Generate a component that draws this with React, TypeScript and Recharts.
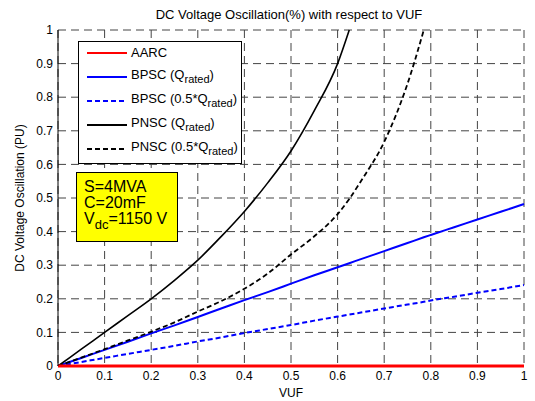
import React from 'react';
import { LineChart, Line, XAxis, YAxis, CartesianGrid } from 'recharts';

const vuf = [0, 0.05, 0.1, 0.15, 0.2, 0.25, 0.3, 0.35, 0.4, 0.45, 0.5, 0.55, 0.6, 0.625, 0.65, 0.7, 0.75, 0.785, 0.8, 0.85, 0.9, 0.95, 1];
const aarc = [0, 0, 0, 0, 0, 0, 0, 0, 0, 0, 0, 0, 0, 0, 0, 0, 0, 0, 0, 0, 0, 0, 0];
const bpscRated = [0, 0.024, 0.048, 0.072, 0.097, 0.121, 0.146, 0.171, 0.196, 0.22, 0.245, 0.27, 0.294, 0.306, 0.318, 0.342, 0.366, 0.383, 0.39, 0.413, 0.436, 0.459, 0.482];
const bpscHalf = [0, 0.012, 0.024, 0.036, 0.048, 0.06, 0.073, 0.085, 0.098, 0.11, 0.122, 0.135, 0.147, 0.153, 0.159, 0.171, 0.183, 0.191, 0.195, 0.206, 0.218, 0.229, 0.241];
const pnscRated = [0, 0.05, 0.1, 0.15, 0.2, 0.255, 0.315, 0.385, 0.46, 0.545, 0.64, 0.76, 0.9, 1, null, null, null, null, null, null, null, null, null];
const pnscHalf = [0, 0.025, 0.05, 0.076, 0.102, 0.13, 0.162, 0.193, 0.23, 0.275, 0.332, 0.386, 0.452, 0.497, 0.55, 0.667, 0.84, 1, null, null, null, null, null];
const ticks = [0, 0.1, 0.2, 0.3, 0.4, 0.5, 0.6, 0.7, 0.8, 0.9, 1];

const data = vuf.map((v, i) => ({
  vuf: v,
  aarc: aarc[i],
  bpscRated: bpscRated[i],
  bpscHalf: bpscHalf[i],
  pnscRated: pnscRated[i],
  pnscHalf: pnscHalf[i],
}));

const FONT = '"Liberation Sans", Arial, Helvetica, sans-serif';

const legendItems = [
  { name: 'AARC', sub: '', tail: '', color: '#ff0000', dash: undefined },
  { name: 'BPSC (Q', sub: 'rated', tail: ')', color: '#0000ff', dash: undefined },
  { name: 'BPSC (0.5*Q', sub: 'rated', tail: ')', color: '#0000ff', dash: '5 3' },
  { name: 'PNSC (Q', sub: 'rated', tail: ')', color: '#000000', dash: undefined },
  { name: 'PNSC (0.5*Q', sub: 'rated', tail: ')', color: '#000000', dash: '5 3' },
];

function YLabel(props: any) {
  const vb = props.viewBox || {};
  const cy = (vb.y ?? 0) + (vb.height ?? 0) / 2;
  return (
    <text x={20} y={cy} transform={`rotate(-90, 20, ${cy})`} textAnchor="middle" dominantBaseline="central" fontSize={12} fill="#000" fontFamily={FONT}>
      DC Voltage Oscillation (PU)
    </text>
  );
}

export default function App() {
  return (
    <div style={{ position: 'absolute', left: 0, top: 0, width: 535, height: 401, background: '#fff', fontFamily: FONT }}>
      <div style={{ position: 'absolute', left: 289, top: 8, transform: 'translateX(-50%)', fontSize: 13, whiteSpace: 'nowrap', lineHeight: '14px' }}>
        DC Voltage Oscillation(%) with respect to VUF
      </div>
      <LineChart width={535} height={401} data={data} margin={{ top: 30, right: 11, bottom: 0, left: 0 }}>
        <CartesianGrid stroke="#444" strokeDasharray="8 5" strokeWidth={1} />
        <XAxis
          dataKey="vuf"
          type="number"
          domain={[0, 1]}
          ticks={ticks}
          height={35}
          tickLine={false}
          tickSize={3}
          tickMargin={2}
          axisLine={false}
          tick={{ fontSize: 12, fill: '#000', fontFamily: FONT }}
          label={{ value: 'VUF', position: 'insideBottom', offset: 4, fontSize: 12, fill: '#000', fontFamily: FONT }}
        />
        <XAxis xAxisId="top" orientation="top" dataKey="vuf" type="number" domain={[0, 1]} height={0} tick={false} tickLine={false} axisLine={{ stroke: '#000' }} />
        <YAxis
          type="number"
          domain={[0, 1]}
          ticks={ticks}
          width={58}
          tickLine={false}
          tickSize={2}
          tickMargin={3}
          axisLine={{ stroke: '#000' }}
          tick={{ fontSize: 12, fill: '#000', fontFamily: FONT }}
          label={<YLabel />}
        />
        <YAxis yAxisId="right" orientation="right" domain={[0, 1]} width={0} tick={false} tickLine={false} axisLine={{ stroke: '#000' }} />
        <Line type="monotone" dataKey="bpscHalf" stroke="#0000ff" strokeWidth={2} strokeDasharray="5 3" dot={false} isAnimationActive={false} />
        <Line type="monotone" dataKey="bpscRated" stroke="#0000ff" strokeWidth={2} dot={false} isAnimationActive={false} />
        <Line type="monotone" dataKey="pnscHalf" stroke="#000" strokeWidth={1.8} strokeDasharray="5 3" dot={false} isAnimationActive={false} />
        <Line type="monotone" dataKey="pnscRated" stroke="#000" strokeWidth={1.6} dot={false} isAnimationActive={false} />
        <Line dataKey="aarc" stroke="#ff0000" strokeWidth={3} dot={false} isAnimationActive={false} />
      </LineChart>
      <div style={{ position: 'absolute', left: 78, top: 41, width: 164, height: 123, border: '1px solid #000', background: '#fff', boxSizing: 'border-box' }}>
        {legendItems.map((it, i) => (
          <div key={it.name + i} style={{ position: 'absolute', left: 0, top: 1 + i * 24, height: 20, display: 'flex', alignItems: 'center' }}>
            <svg width={52} height={20} style={{ display: 'block' }}>
              <line x1={8} y1={10} x2={48} y2={10} stroke={it.color} strokeWidth={2} strokeDasharray={it.dash} />
            </svg>
            <span style={{ fontSize: 13, whiteSpace: 'nowrap', lineHeight: '14px' }}>
              {it.name}
              {it.sub && <sub style={{ fontSize: 11, verticalAlign: '-4px' }}>{it.sub}</sub>}
              {it.tail}
            </span>
          </div>
        ))}
      </div>
      <div style={{ position: 'absolute', left: 76, top: 172, width: 102, height: 70, border: '1px solid #000', background: '#ffff00', boxSizing: 'border-box', fontSize: 16, lineHeight: '16px', padding: '6px 0 0 7px' }}>
        <div>S=4MVA</div>
        <div>C=20mF</div>
        <div>
          V<sub style={{ fontSize: 13, verticalAlign: '-5px' }}>dc</sub>=1150 V
        </div>
      </div>
    </div>
  );
}
